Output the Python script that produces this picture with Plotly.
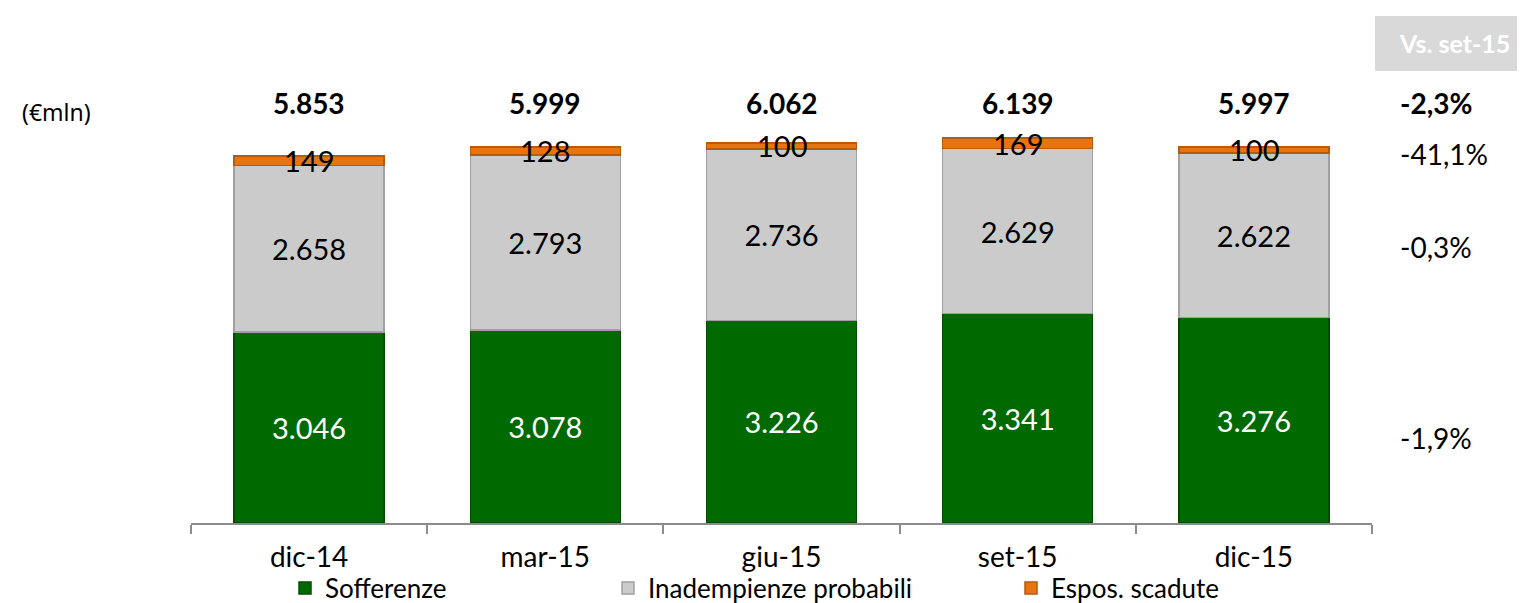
import plotly.graph_objects as go

categories = ["dic-14", "mar-15", "giu-15", "set-15", "dic-15"]
sofferenze = [3046, 3078, 3226, 3341, 3276]
inadempienze = [2658, 2793, 2736, 2629, 2622]
scadute = [149, 128, 100, 169, 100]
totals = [5853, 5999, 6062, 6139, 5997]
var_labels = ["-2,3%", "-41,1%", "-0,3%", "-1,9%"]
vs_label = "Vs. set-15"
unit_label = "(€mln)"
series_names = ["Sofferenze", "Inadempienze probabili", "Espos. scadute"]

FONT = "Century Gothic, Lato, sans-serif"
FS = 28

def it(v):
    return f"{v:,}".replace(",", ".")

# pixel geometry helpers (plot area: x 183..1364, y 76..515)
L, R, T, B = 183, 1364, 76, 515
W, H = R - L, B - T
CW, CH = 1525, 603
def px(xp):
    return (xp - L) / W
def py(yp):
    return (B - yp) / H
def cx(xp):
    return xp / CW
def cy(yp):
    return 1 - yp / CH

fig = go.Figure()
fig.add_trace(go.Bar(
    x=categories, y=sofferenze, name=series_names[0],
    marker=dict(color="#006a00", line=dict(color="#004f00", width=1.5)),
    text=[it(v) for v in sofferenze], textposition="inside",
    insidetextanchor="middle", textangle=0,
    textfont=dict(color="white", size=29, family=FONT),
    legend="legend",
))
fig.add_trace(go.Bar(
    x=categories, y=inadempienze, name=series_names[1],
    marker=dict(color="#cbcbcb", line=dict(color="#a0a0a0", width=1.5)),
    text=[it(v) for v in inadempienze], textposition="inside",
    insidetextanchor="middle", textangle=0,
    textfont=dict(color="black", size=29, family=FONT),
    legend="legend2",
))
fig.add_trace(go.Bar(
    x=categories, y=scadute, name=series_names[2],
    marker=dict(color="#e8740f", line=dict(color="#b85a08", width=1.5)),
    legend="legend3",
))

annotations = []
# small orange labels
for c, a, b, s in zip(categories, sofferenze, inadempienze, scadute):
    annotations.append(dict(x=c, y=a + b + s / 2, xref="x", yref="y", text=it(s),
                            showarrow=False, font=dict(size=29, color="black", family=FONT),
                            xanchor="center", yanchor="middle"))
# totals
for c, t in zip(categories, totals):
    annotations.append(dict(x=c, y=py(95), xref="x", yref="paper", text=f"<b>{it(t)}</b>",
                            showarrow=False, font=dict(size=FS, color="black", family=FONT),
                            xanchor="center", yanchor="middle"))
# variation labels
var_y = [95, 146, 239, 429.5]
for lab, yy in zip(var_labels, var_y):
    txt = f"<b>{lab}</b>" if yy == 95 else lab
    annotations.append(dict(x=px(1390), y=py(yy), xref="paper", yref="paper", text=txt,
                            showarrow=False, xanchor="left", yanchor="middle",
                            font=dict(size=FS, color="black", family=FONT)))
annotations.append(dict(x=px(1446), y=py(35), xref="paper", yref="paper",
                        text=f"<b>{vs_label}</b>", showarrow=False,
                        xanchor="center", yanchor="middle",
                        font=dict(size=25, color="white", family=FONT)))
annotations.append(dict(x=px(12), y=py(104), xref="paper", yref="paper", text=unit_label,
                        showarrow=False, xanchor="left", yanchor="middle",
                        font=dict(size=23, color="black", family="Noto Sans, sans-serif")))

shapes = [dict(type="rect", xref="paper", yref="paper", x0=px(1367), x1=px(1530),
               y0=py(63), y1=py(8), fillcolor="#d9d9d9", line=dict(width=0), layer="below")]

leg_common = dict(orientation="h", yanchor="middle", xanchor="left",
                  xref="container", yref="container",
                  font=dict(size=26, color="black", family=FONT),
                  bgcolor="rgba(0,0,0,0)", itemclick=False)

fig.update_layout(
    barmode="stack",
    bargap=0.365,
    width=CW, height=CH,
    margin=dict(l=L, r=CW - R, t=T, b=CH - B, autoexpand=False),
    paper_bgcolor="white", plot_bgcolor="white",
    annotations=annotations, shapes=shapes,
    showlegend=True,
    legend=dict(x=cx(277), y=cy(580), **leg_common),
    legend2=dict(x=cx(600), y=cy(580), **leg_common),
    legend3=dict(x=cx(1003), y=cy(580), **leg_common),
    xaxis=dict(
        showline=True, linecolor="#8c8c8c", linewidth=2,
        ticks="outside", tickson="boundaries", ticklen=9, tickcolor="#8c8c8c", tickwidth=2,
        tickfont=dict(size=FS, color="black", family=FONT), ticklabelstandoff=8,
        showgrid=False, zeroline=False, fixedrange=True,
    ),
    yaxis=dict(visible=False, range=[0, 7000], fixedrange=True),
)

fig.write_html("out.html")
